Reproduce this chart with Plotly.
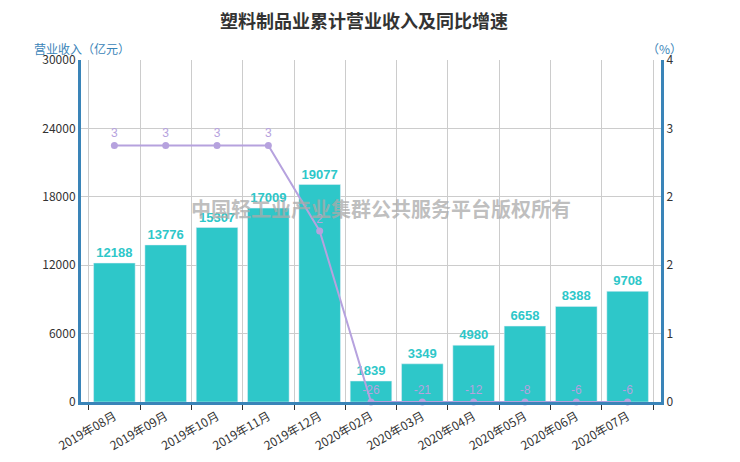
import plotly.graph_objects as go

months = ["2019年08月", "2019年09月", "2019年10月", "2019年11月", "2019年12月",
          "2020年02月", "2020年03月", "2020年04月", "2020年05月", "2020年06月", "2020年07月"]
revenue = [12188, 13776, 15307, 17009, 19077, 1839, 3349, 4980, 6658, 8388, 9708]
growth = [3, 3, 3, 3, 2, -26, -21, -12, -8, -6, -6]

BAR_COLOR = "#2ec7c9"
LINE_COLOR = "#b6a2de"
AXIS_COLOR = "#3a84b8"
FONT = "Noto Sans CJK SC"

# right axis starts at 0, so negative growth sits on the floor (labels keep real values)
growth_shown = [max(v, 0) for v in growth]

fig = go.Figure()
fig.add_trace(go.Bar(
    x=months, y=revenue, marker_color=BAR_COLOR,
    text=revenue, textposition="outside", cliponaxis=False,
    textfont=dict(color=BAR_COLOR, size=13, family="Liberation Sans"),
    texttemplate="<b>%{text}</b>",
))
fig.add_trace(go.Scatter(
    x=months, y=growth_shown, yaxis="y2", mode="lines+markers+text",
    line=dict(color=LINE_COLOR, width=2), marker=dict(color=LINE_COLOR, size=7),
    text=growth, textposition="top center", cliponaxis=False,
    textfont=dict(color=LINE_COLOR, size=12, family="Liberation Sans"),
))

# page body adds ~8px offset, margins compensate for it
fig.update_layout(
    width=740, height=462,
    margin=dict(l=73, r=87, t=52, b=68),
    plot_bgcolor="white", paper_bgcolor="white",
    showlegend=False, bargap=0.19,
    font=dict(family=FONT, size=12, color="#333"),
    xaxis=dict(
        showgrid=True, gridcolor="#ccc", tickangle=-30, automargin=False,
        showline=True, linecolor=AXIS_COLOR, linewidth=3,
        ticks="outside", ticklen=5, tickcolor="#333",
        tickson="boundaries", tickfont=dict(size=12, color="#333"),
    ),
    yaxis=dict(
        range=[0, 30000], tickvals=[0, 6000, 12000, 18000, 24000, 30000],
        tickformat="d", automargin=False,
        showgrid=True, gridcolor="#ccc", zeroline=False,
        showline=True, linecolor=AXIS_COLOR, linewidth=3,
        tickfont=dict(size=12, color="#333"),
    ),
    yaxis2=dict(
        overlaying="y", side="right", range=[0, 4], automargin=False,
        tickvals=[0, 0.8, 1.6, 2.4, 3.2, 4], ticktext=["0", "1", "2", "2", "3", "4"],
        showgrid=False, zeroline=False,
        showline=True, linecolor=AXIS_COLOR, linewidth=3,
        tickfont=dict(size=12, color="#333"),
    ),
    annotations=[
        dict(text="<b>塑料制品业累计营业收入及同比增速</b>", xref="paper", yref="paper",
             x=0.5, y=1, xanchor="center", yanchor="middle",
             xshift=-7, yshift=40, showarrow=False,
             font=dict(size=18, color="#333")),
        dict(text="营业收入（亿元）", xref="paper", yref="paper", x=0, y=1.0,
             xanchor="right", yanchor="middle", showarrow=False, xshift=51, yshift=12,
             font=dict(size=12, color=AXIS_COLOR)),
        dict(text="（%）", xref="paper", yref="paper", x=1, y=1.0,
             xanchor="right", yanchor="middle", showarrow=False, xshift=23, yshift=12,
             font=dict(size=12, color=AXIS_COLOR)),
        dict(text="<b>中国轻工业产业集群公共服务平台版权所有</b>", xref="paper", yref="paper",
             x=0.518, y=0.567, showarrow=False,
             font=dict(size=20, color="rgba(170,170,170,0.75)")),
    ],
)

fig.write_html("out.html")
